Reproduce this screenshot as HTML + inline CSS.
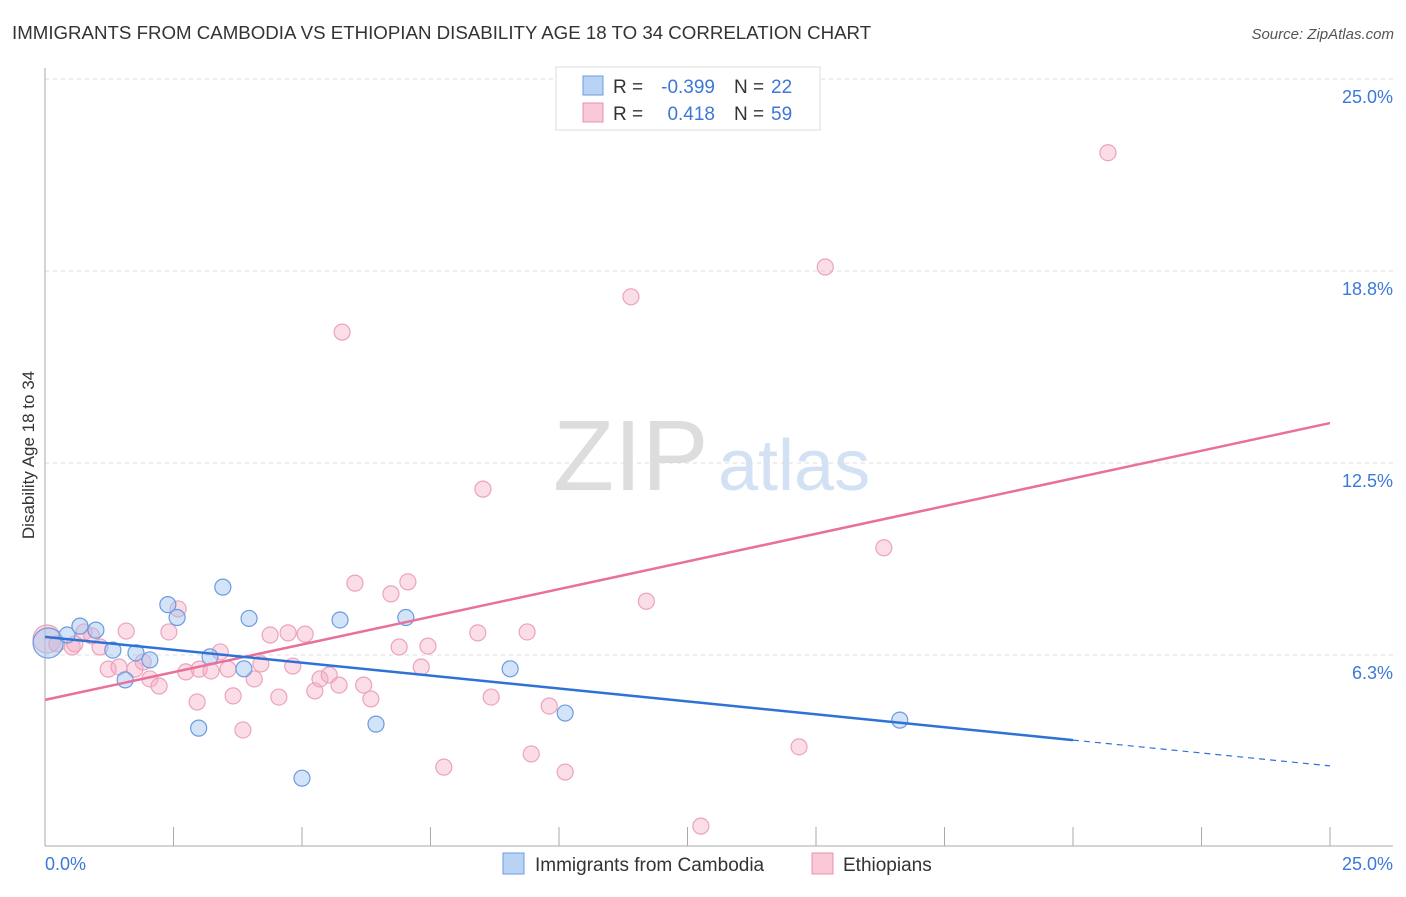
<!DOCTYPE html>
<html><head><meta charset="utf-8"><style>
body{margin:0;background:#fff;font-family:"Liberation Sans",sans-serif}
svg text{font-family:"Liberation Sans",sans-serif}
</style></head><body>
<svg id="c" width="1406" height="892">
<text x="12" y="39" font-size="18.7" fill="#333">IMMIGRANTS FROM CAMBODIA VS ETHIOPIAN DISABILITY AGE 18 TO 34 CORRELATION CHART</text>
<text x="1394" y="39" font-size="15" fill="#555" font-style="italic" text-anchor="end">Source: ZipAtlas.com</text>
<text x="553" y="490" font-size="100" fill="#ddd" font-family="Liberation Serif">ZIP</text>
<text x="718" y="490" font-size="72" fill="#d3e1f4">atlas</text>
<text transform="translate(34,455) rotate(-90)" font-size="17" fill="#333" text-anchor="middle">Disability Age 18 to 34</text>
<g id="grid"></g><g id="marks"></g>
<g>
<rect x="556" y="67" width="264" height="63" fill="#fff" stroke="#ddd"/>
<rect x="583" y="76" width="20" height="19" fill="#b9d3f5" stroke="#6a9be0"/>
<rect x="583" y="103" width="20" height="19" fill="#f9c9d8" stroke="#e990ad"/>
<text x="613" y="93" font-size="19" fill="#333">R =</text>
<text x="715" y="93" font-size="19" fill="#3b78d8" text-anchor="end">-0.399</text>
<text x="734" y="93" font-size="19" fill="#333">N =</text>
<text x="771" y="93" font-size="19" fill="#3b78d8">22</text>
<text x="613" y="120" font-size="19" fill="#333">R =</text>
<text x="715" y="120" font-size="19" fill="#3b78d8" text-anchor="end">0.418</text>
<text x="734" y="120" font-size="19" fill="#333">N =</text>
<text x="771" y="120" font-size="19" fill="#3b78d8">59</text>
</g>
<g>
<rect x="503" y="853" width="21" height="21" fill="#b9d3f5" stroke="#6a9be0"/>
<text x="535" y="871" font-size="19" fill="#333">Immigrants from Cambodia</text>
<rect x="812" y="853" width="21" height="21" fill="#f9c9d8" stroke="#e990ad"/>
<text x="843" y="871" font-size="19" fill="#333">Ethiopians</text>
</g>
</svg>
<script>
const yTicks=[6.25,12.5,18.75,25];
const yTickLabels=["6.3%","12.5%","18.8%","25.0%"];
const xTickLabels=["0.0%","25.0%"];
const blueX=[0.06,0.43,0.68,0.99,1.32,1.56,1.77,2.04,2.39,2.57,2.99,3.21,3.46,3.87,3.97,5.0,5.74,6.44,7.02,9.05,10.12,16.63];
const blueY=[6.64,6.9,7.19,7.06,6.41,5.44,6.32,6.09,7.89,7.47,3.87,6.19,8.46,5.8,7.44,2.24,7.39,4.0,7.47,5.8,4.36,4.13];
const pinkX=[0.04,0.23,0.53,0.58,0.76,0.91,1.07,1.23,1.44,1.58,1.75,1.91,2.04,2.22,2.41,2.59,2.74,2.96,3.0,3.23,3.41,3.56,3.66,3.85,4.07,4.2,4.38,4.55,4.73,4.82,5.06,5.25,5.35,5.53,5.72,5.78,6.03,6.2,6.34,6.73,6.89,7.06,7.32,7.45,7.76,8.42,8.52,8.68,9.38,9.46,9.81,10.12,11.4,11.7,12.76,14.67,15.18,16.32,20.68];
const pinkY=[6.77,6.61,6.51,6.61,7.0,6.87,6.51,5.79,5.86,7.03,5.79,6.02,5.47,5.24,7.0,7.75,5.7,4.72,5.79,5.73,6.35,5.79,4.92,3.81,5.47,5.96,6.9,4.88,6.97,5.89,6.93,5.08,5.47,5.6,5.27,16.76,8.59,5.27,4.82,8.24,6.51,8.63,5.86,6.54,2.6,6.97,11.65,4.88,7.0,3.03,4.59,2.44,17.91,8.0,0.68,3.26,18.88,9.74,22.6];
const blueLine=[[0,6.84],[20,3.48],[25,2.64]];
const pinkLine=[[0,4.79],[25,13.8]];
const X=v=>45+v*51.4, Y=v=>847-v*30.72;
const NS="http://www.w3.org/2000/svg";
function mk(t,a,p){const e=document.createElementNS(NS,t);for(const k in a)e.setAttribute(k,a[k]);p.appendChild(e);return e;}
const g=document.getElementById('grid'), m=document.getElementById('marks');
yTicks.forEach((t,i)=>{
 const l=mk('line',{x1:45,x2:1393,y1:Y(t),y2:Y(t),stroke:'#ddd','stroke-dasharray':'4,4'},g);
 
 
 const tx=mk('text',{x:1393,y:Y(t)+24,'font-size':18,fill:'#3b78d8','text-anchor':'end'},g);tx.textContent=yTickLabels[i];
 
 
});
const ax=mk('line',{x1:45,x2:45,y1:68,y2:846,stroke:'#aaa'},g);


const bx=mk('line',{x1:45,x2:1393,y1:846,y2:846,stroke:'#aaa'},g);


for(let i=0;i<=10;i++){const t=mk('line',{x1:X(i*2.5),x2:X(i*2.5),y1:827,y2:846,stroke:'#aaa'},g);
 
 }
xTickLabels.forEach((s,i)=>{const t=mk('text',{x:i?1393:45,y:870,'font-size':18,fill:'#3b78d8','text-anchor':i?'end':'start'},g);t.textContent=s;
 
 });
pinkX.forEach((x,i)=>{const c=mk('circle',{cx:X(x),cy:Y(pinkY[i]),r:i==0?14:8,fill:'rgba(246,170,195,0.4)',stroke:'#eba3bb','stroke-width':1.2},m);
 
 });
blueX.forEach((x,i)=>{const c=mk('circle',{cx:X(x),cy:Y(blueY[i]),r:i==0?15:8,fill:'rgba(160,195,240,0.45)',stroke:'#6b9be0','stroke-width':1.2},m);
 
 });
const pl=mk('line',{x1:X(pinkLine[0][0]),y1:Y(pinkLine[0][1]),x2:X(pinkLine[1][0]),y2:Y(pinkLine[1][1]),stroke:'#e8709a','stroke-width':2.5},m);


const bl=mk('line',{x1:X(blueLine[0][0]),y1:Y(blueLine[0][1]),x2:X(blueLine[1][0]),y2:Y(blueLine[1][1]),stroke:'#2e72d6','stroke-width':2.5},m);


const bd=mk('line',{x1:X(blueLine[1][0]),y1:Y(blueLine[1][1]),x2:X(blueLine[2][0]),y2:Y(blueLine[2][1]),stroke:'#2e72d6','stroke-width':1.2,'stroke-dasharray':'6,5'},m);


</script>
</body></html>
